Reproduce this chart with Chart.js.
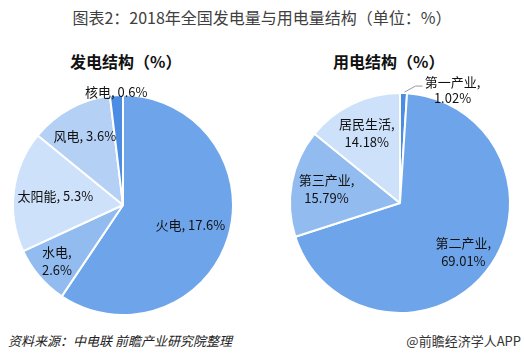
<!DOCTYPE html>
<html>
<head>
<meta charset="utf-8">
<script src="https://cdn.jsdelivr.net/npm/chart.js@4.4.1/dist/chart.umd.min.js"></script>
<style>
  body { margin: 0; background: #fff; font-family: "Noto Sans CJK SC", "Noto Sans", sans-serif; }
  #page { position: relative; width: 524px; height: 358px; overflow: hidden; }
  .txt { position: absolute; white-space: nowrap; }
  #title { left: 0; width: 524px; top: 5px; text-align: center; font-size: 16px; color: #404040; }
  .sub { top: 49px; font-size: 16px; font-weight: bold; color: #111; }
  .box { position: absolute; top: 70px; width: 262px; height: 260px; }
  #src { left: 8px; top: 331px; font-size: 13px; font-style: italic; color: #222; }
  #app { right: 3px; top: 331px; font-size: 13px; color: #333; }
</style>
</head>
<body>
<div id="page">
  <div id="title" class="txt">图表2：2018年全国发电量与用电量结构（单位：%）</div>
  <div class="txt sub" style="left:70px">发电结构（%）</div>
  <div class="txt sub" style="left:333px">用电结构（%）</div>
  <div class="box" style="left:0"><canvas id="genChart"></canvas></div>
  <div class="box" style="left:262px"><canvas id="useChart"></canvas></div>
  <div id="src" class="txt">资料来源：中电联 前瞻产业研究院整理</div>
  <div id="app" class="txt">@前瞻经济学人APP</div>
</div>
<script>
// 发电结构: slice sizes, labels as printed
const genCategories = ["火电", "水电", "太阳能", "风电", "核电"];
const genShares = [59.4, 8.7, 17.8, 12.2, 1.9];
const genLabels = ["17.6%", "2.6%", "5.3%", "3.6%", "0.6%"];

// 用电结构
const useCategories = ["第一产业", "第二产业", "第三产业", "居民生活"];
const useShares = [1.02, 69.01, 15.79, 14.18];
const useLabels = ["1.02%", "69.01%", "15.79%", "14.18%"];

const genColors = ["#6EA5EA", "#92BCF0", "#CDE1FA", "#B4D1F5", "#4A8DE3"];
const useColors = ["#4A8DE3", "#6EA5EA", "#92BCF0", "#CDE1FA"];

const labelFont = '13px "Noto Sans CJK SC", sans-serif';

// label layout per slice: radius factor and line mode
const genLabelStyle = [
  { r: 0.64, lines: 1 },
  { r: 0.79, lines: 2 },
  { r: 0.62, lines: 1 },
  { r: 0.72, lines: 1 },
  { r: 1.03, lines: 1 },
];
const useLabelStyle = [
  { leader: true },
  { r: 0.73, lines: 2 },
  { r: 0.68, lines: 2 },
  { r: 0.70, lines: 2 },
];

function sliceLabelPlugin(categories, values, styles) {
  return {
    id: "sliceLabels",
    afterDatasetsDraw(chart) {
      const ctx = chart.ctx;
      const arcs = chart.getDatasetMeta(0).data;
      ctx.save();
      ctx.font = labelFont;
      ctx.fillStyle = "#111";
      ctx.textBaseline = "middle";
      arcs.forEach((arc, i) => {
        const st = styles[i];
        const mid = (arc.startAngle + arc.endAngle) / 2;
        const cos = Math.cos(mid);
        const sin = Math.sin(mid);
        if (st.leader) {
          const x0 = arc.x + cos * arc.outerRadius;
          const y0 = arc.y + sin * arc.outerRadius;
          ctx.strokeStyle = "#999";
          ctx.lineWidth = 1;
          ctx.beginPath();
          ctx.moveTo(x0 + 1, y0 - 1);
          ctx.lineTo(x0 + 12, y0 - 7);
          ctx.lineTo(x0 + 19, y0 - 7);
          ctx.stroke();
          ctx.textAlign = "center";
          ctx.fillText(categories[i] + ",", x0 + 49, y0 - 11);
          ctx.fillText(values[i], x0 + 49, y0 + 5);
          return;
        }
        const x = arc.x + cos * arc.outerRadius * st.r;
        const y = arc.y + sin * arc.outerRadius * st.r;
        ctx.textAlign = "center";
        if (st.lines === 2) {
          ctx.fillText(categories[i] + ",", x, y - 9);
          ctx.fillText(values[i], x, y + 9);
        } else {
          ctx.fillText(categories[i] + ", " + values[i], x, y);
        }
      });
      ctx.restore();
    },
  };
}

function renderPie(elementId, categories, shares, colors, labels, styles, padding) {
  new Chart(document.getElementById(elementId), {
    type: "pie",
    data: {
      labels: categories,
      datasets: [{
        data: shares,
        backgroundColor: colors,
        borderColor: "#fff",
        borderWidth: 2,
      }],
    },
    options: {
      responsive: true,
      maintainAspectRatio: false,
      animation: false,
      layout: { padding },
      plugins: { legend: { display: false }, tooltip: { enabled: false } },
    },
    plugins: [sliceLabelPlugin(categories, labels, styles)],
  });
}

renderPie("genChart", genCategories, genShares, genColors, genLabels, genLabelStyle,
  { left: 12, right: 28, top: 24, bottom: 14 });
renderPie("useChart", useCategories, useShares, useColors, useLabels, useLabelStyle,
  { left: 27, right: 13, top: 22, bottom: 16 });
</script>
</body>
</html>
